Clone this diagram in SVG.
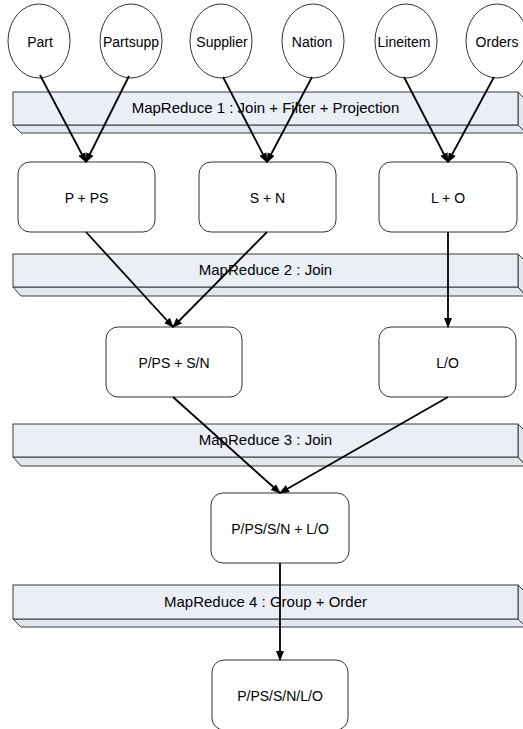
<svg xmlns="http://www.w3.org/2000/svg" width="523" height="729" viewBox="0 0 523 729">
<defs>
<style>
.bg{fill:#ffffff}
.face{fill:#ebeff5;stroke:#3a3a3a;stroke-width:1}
.side{fill:#e3e8ef;stroke:#3a3a3a;stroke-width:1;stroke-linejoin:miter}
.node{fill:#ffffff;stroke:#333333;stroke-width:1}
.t{font-family:"Liberation Sans",Arial,sans-serif;font-size:14px;fill:#000;text-anchor:middle}
.bt{font-family:"Liberation Sans",Arial,sans-serif;font-size:15px;fill:#000;text-anchor:middle}
.c{stroke:#000;stroke-width:1.8;fill:none;marker-end:url(#ah)}
</style>
<marker id="ah" markerUnits="userSpaceOnUse" markerWidth="10" markerHeight="8" refX="9" refY="4" orient="auto">
<path d="M0,0 L10,4 L0,8 Z" fill="#000"/>
</marker>
</defs>
<rect class="bg" x="0" y="0" width="523" height="729"/>

<g id="bar1">
<polygon class="side" points="13,125 21,133 526,133 518,125"/>
<polygon class="side" points="518,92 526,100 526,133 518,125"/>
<rect class="face" x="13" y="92" width="505" height="33"/>
<text class="bt" x="265.5" y="113">MapReduce 1 : Join + Filter + Projection</text>
</g>
<g id="bar2">
<polygon class="side" points="13,287 21,296 526,296 518,287"/>
<polygon class="side" points="518,254 526,262 526,296 518,287"/>
<rect class="face" x="13" y="254" width="505" height="33"/>
<text class="bt" x="265.5" y="275">MapReduce 2 : Join</text>
</g>
<g id="bar3">
<polygon class="side" points="13,457 21,466 526,466 518,457"/>
<polygon class="side" points="518,424 526,432 526,466 518,457"/>
<rect class="face" x="13" y="424" width="505" height="33"/>
<text class="bt" x="265.5" y="445">MapReduce 3 : Join</text>
</g>
<g id="bar4">
<polygon class="side" points="13,619 21,627 526,627 518,619"/>
<polygon class="side" points="518,585 526,593 526,627 518,619"/>
<rect class="face" x="13" y="585" width="505" height="34"/>
<text class="bt" x="265.5" y="607">MapReduce 4 : Group + Order</text>
</g>

<g id="part"><ellipse class="node" cx="39" cy="41" rx="31" ry="37"/><text class="t" x="40" y="46.5">Part</text></g>
<g id="partsupp"><ellipse class="node" cx="131" cy="41" rx="31" ry="37"/><text class="t" x="131" y="46.5">Partsupp</text></g>
<g id="supplier"><ellipse class="node" cx="221" cy="41" rx="31" ry="37"/><text class="t" x="222" y="46.5">Supplier</text></g>
<g id="nation"><ellipse class="node" cx="313" cy="41" rx="31" ry="37"/><text class="t" x="312" y="46.5">Nation</text></g>
<g id="lineitem"><ellipse class="node" cx="406" cy="41" rx="31" ry="37"/><text class="t" x="404" y="46.5">Lineitem</text></g>
<g id="orders"><ellipse class="node" cx="497" cy="41" rx="31" ry="37"/><text class="t" x="497" y="46.5">Orders</text></g>

<g id="p_ps"><rect class="node" x="18" y="162" width="137" height="70" rx="12"/><text class="t" x="86.5" y="202.5">P + PS</text></g>
<g id="s_n"><rect class="node" x="199" y="162" width="137" height="70" rx="12"/><text class="t" x="267.5" y="202.5">S + N</text></g>
<g id="l_o"><rect class="node" x="379" y="162" width="138" height="70" rx="12"/><text class="t" x="448" y="202.5">L + O</text></g>
<g id="pps_sn"><rect class="node" x="106" y="327" width="136" height="70" rx="12"/><text class="t" x="174" y="367.5">P/PS + S/N</text></g>
<g id="lo"><rect class="node" x="379" y="327" width="137" height="70" rx="12"/><text class="t" x="447.5" y="367.5">L/O</text></g>
<g id="ppssn_lo"><rect class="node" x="211" y="493" width="138" height="70" rx="12"/><text class="t" x="280" y="533.5">P/PS/S/N + L/O</text></g>
<g id="final"><rect class="node" x="212" y="660" width="136" height="70" rx="12"/><text class="t" x="280" y="700.5">P/PS/S/N/L/O</text></g>

<g id="connectors">
<path class="c" d="M40,75 L86,162"/>
<path class="c" d="M129,76 L86,162"/>
<path class="c" d="M223,77 L267,162"/>
<path class="c" d="M312,77 L267,162"/>
<path class="c" d="M404,77 L448,162"/>
<path class="c" d="M494,77 L448,162"/>
<path class="c" d="M86,232 L173,327"/>
<path class="c" d="M267,232 L173,327"/>
<path class="c" d="M448,232 L448,327"/>
<path class="c" d="M173,397 L280,493"/>
<path class="c" d="M448,397 L280,493"/>
<path class="c" d="M280,563 L280,660"/>
</g>
</svg>
